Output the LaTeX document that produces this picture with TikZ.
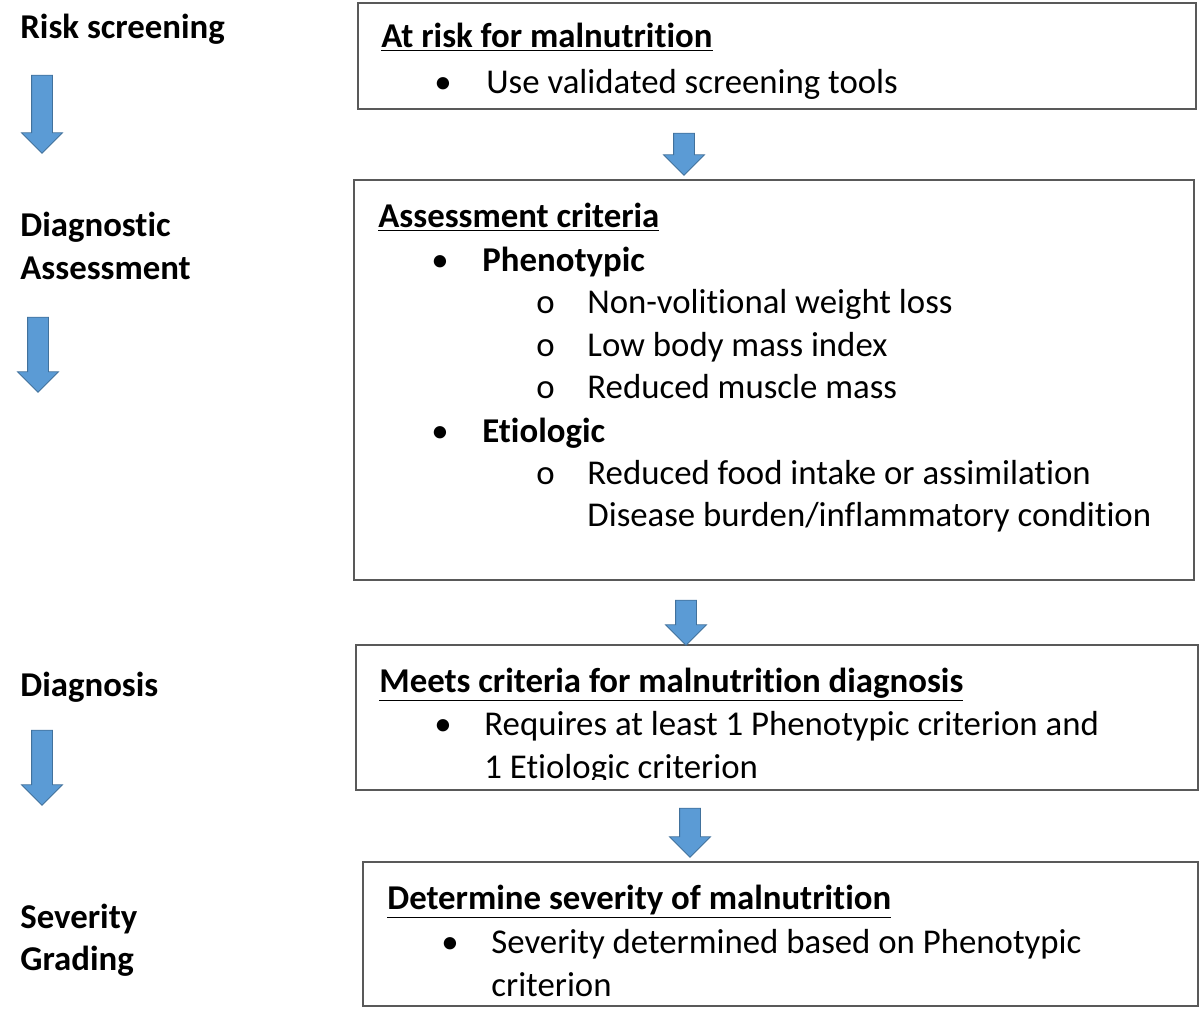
\documentclass[tikz,border=0pt]{standalone}
\usepackage{fontspec}
\setmainfont{Carlito}[Ligatures=NoCommon]
\usepackage{xcolor}
\usetikzlibrary{shapes.arrows}
\definecolor{arrowblue}{RGB}{91,155,213}
\definecolor{arrowedge}{RGB}{65,113,156}

\begin{document}
\begin{tikzpicture}[x=0.5pt, y=-0.5pt,
    stagebox/.style={draw=black!65, line width=1.1pt, inner sep=0pt},
    steplabel/.style={font=\fontsize{17.4}{20}\selectfont\bfseries, anchor=base west, inner sep=0pt},
    heading/.style={font=\fontsize{17.4}{20}\selectfont\bfseries, anchor=base west, inner sep=0pt},
    item/.style={font=\fontsize{17.4}{20}\selectfont, anchor=base west, inner sep=0pt},
    blockarrow/.style={single arrow, rotate=-90, fill=arrowblue, draw=arrowedge, line width=0.4pt,
                       single arrow head extend=5pt, single arrow tip angle=90, inner sep=5pt, minimum height=#1},
]
\useasboundingbox (0,0) rectangle (1201,1009);

% ===== LEFT COLUMN =====
\node[steplabel] (riskscr) at (20,38) {Risk screening};
\node[steplabel] (diagass) at (20,236) {Diagnostic};
\node[steplabel] (diagass2) at (20,279) {Assessment};
\node[steplabel] (diagn) at (20,696) {Diagnosis};
\node[steplabel] (sevgr) at (20,928) {Severity};
\node[steplabel] (sevgr2) at (20,970) {Grading};

\node[blockarrow=39pt] (larr1) at (42,109) {};
\node[blockarrow=37.5pt] (larr2) at (38,349.5) {};
\node[blockarrow=37.5pt] (larr3) at (42,762.5) {};

% ===== BOXES =====
\node[stagebox, minimum width=419pt, minimum height=53pt] (riskbox) at (777,56) {};
\node[stagebox, minimum width=420pt, minimum height=200pt] (assessbox) at (774,380) {};
\node[stagebox, minimum width=421pt, minimum height=72.5pt] (diagbox) at (777,717.5) {};
\node[stagebox, minimum width=417.5pt, minimum height=72pt] (sevbox) at (780.5,934) {};

\node[heading] (riskhead) at (381,47) {\underline{At risk for malnutrition}};
\node[item] (risk1) at (434,93) {\makebox[26pt][l]{\textbullet}Use validated screening tools};

\node[heading] (asshead) at (378,227) {\underline{Assessment criteria}};
\node[item] (phen) at (431,271) {\makebox[25.5pt][l]{\textbullet}\textbf{Phenotypic}};
\node[item] (phen1) at (536,313) {\makebox[25.5pt][l]{o}Non-volitional weight loss};
\node[item] (phen2) at (536,356) {\makebox[25.5pt][l]{o}Low body mass index};
\node[item] (phen3) at (536,398) {\makebox[25.5pt][l]{o}Reduced muscle mass};
\node[item] (etio) at (431,442) {\makebox[25.5pt][l]{\textbullet}\textbf{Etiologic}};
\node[item] (etio1) at (536,484) {\makebox[25.5pt][l]{o}Reduced food intake or assimilation};
\node[item] (etio2) at (587,526) {Disease burden/inflammatory condition};

\node[heading] (diaghead) at (379,692) {\underline{Meets criteria for malnutrition diagnosis}};
\node[item] (diag1) at (434,735) {\makebox[25pt][l]{\textbullet}Requires at least 1 Phenotypic criterion and};
\begin{scope}
\clip (diagbox.north west) rectangle ([yshift=6pt]diagbox.south east);
\node[item] (diag2) at (484,778) {1 Etiologic criterion};
\end{scope}

\node[heading] (sevhead) at (387,909) {\underline{Determine severity of malnutrition}};
\node[item] (sev1) at (441,953) {\makebox[25pt][l]{\textbullet}Severity determined based on Phenotypic};
\node[item] (sev2) at (491,996) {criterion};

% ===== ARROWS =====
\node[blockarrow=21pt] (marr1) at (684,149) {};
\node[blockarrow=22.5pt] (marr2) at (686,617.5) {};
\node[blockarrow=24.5pt] (marr3) at (690,827.5) {};

\end{tikzpicture}
\end{document}
